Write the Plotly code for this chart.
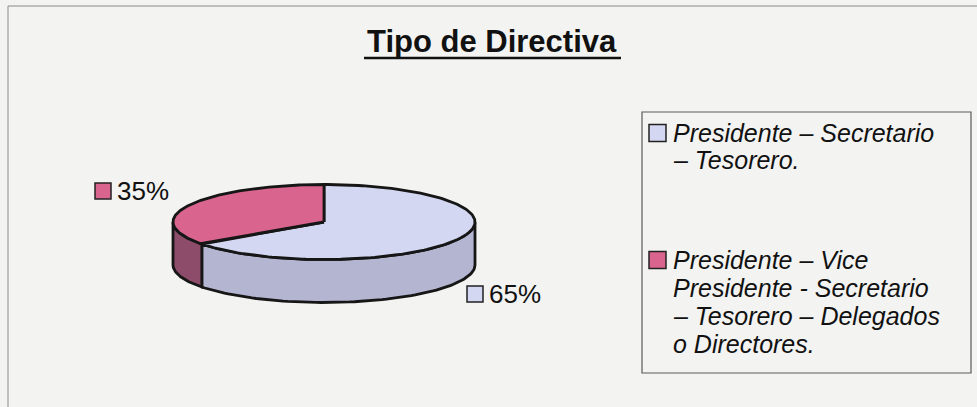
import numpy as np
import plotly.graph_objects as go

# ---- data ----
title_text = "Tipo de Directiva"
categories = [
    "Presidente – Secretario<br>– Tesorero.",
    "Presidente – Vice<br>Presidente - Secretario<br>– Tesorero – Delegados<br>o Directores.",
]
values = [65, 35]
pct_labels = ["65%", "35%"]
top_colors = ["#d3d7f1", "#d9648d"]
side_colors = ["#b4b5d1", "#8d4c69"]

# ---- layout geometry (pixel space) ----
W, H = 977, 407
CX, CY, RX, RY, DEPTH = 324, 222, 151, 37.5, 43
FONT = "Liberation Sans, Arial, sans-serif"
OUTLINE = "#161616"


def ell(t_deg, dy=0.0):
    t = np.radians(t_deg)
    return CX + RX * np.cos(t), CY - RY * np.sin(t) + dy


total = float(sum(values))
slices = []
start = 90.0
for v in values:
    span = 360.0 * v / total
    slices.append((start - span, start))
    start -= span

fig = go.Figure()

# side walls (front half only)
for i, (a0, a1) in enumerate(slices):
    for k in range(-2, 3):
        lo, hi = max(a0, -180 + 360 * k), min(a1, 360 * k)
        if hi > lo:
            ts = np.linspace(lo, hi, 80)
            xt, yt = ell(ts)
            xb, yb = ell(ts[::-1], DEPTH)
            xs = np.concatenate([xt, xb, xt[:1]])
            ys = np.concatenate([yt, yb, yt[:1]])
            fig.add_trace(go.Scatter(x=xs, y=ys, mode="lines", fill="toself",
                                     fillcolor=side_colors[i],
                                     line=dict(color=OUTLINE, width=2.8),
                                     hoverinfo="skip", showlegend=False))

# top faces
for i, (a0, a1) in enumerate(slices):
    ts = np.linspace(a1, a0, 160)
    xa, ya = ell(ts)
    xs = np.concatenate([[CX], xa, [CX]])
    ys = np.concatenate([[CY], ya, [CY]])
    fig.add_trace(go.Scatter(x=xs, y=ys, mode="lines", fill="toself",
                             fillcolor=top_colors[i],
                             line=dict(color=OUTLINE, width=2.8),
                             hoverinfo="skip", showlegend=False,
                             name=categories[i].replace("<br>", " ")))

shapes = []
annotations = []

# frame (top & left edges of the scanned chart area)
shapes.append(dict(type="line", xref="x", yref="y", x0=8, x1=W, y0=6, y1=6,
                   line=dict(color="#8a8a8a", width=1)))
shapes.append(dict(type="line", xref="x", yref="y", x0=8, x1=8, y0=6, y1=H,
                   line=dict(color="#8a8a8a", width=1)))

# title
annotations.append(dict(x=492, y=41, xref="x", yref="y", text="<b>" + title_text + "</b>",
                        showarrow=False, xanchor="center", yanchor="middle",
                        font=dict(family=FONT, size=31, color="#111")))
shapes.append(dict(type="line", xref="x", yref="y", x0=364, x1=621, y0=58, y1=58,
                   line=dict(color="#111", width=2.5)))

# percentage labels (key square + text)
label_pos = [(467, 294), (95, 191)]  # left edge of key square, vertical centre
for i, (lx, ly) in enumerate(label_pos):
    shapes.append(dict(type="rect", xref="x", yref="y", x0=lx, x1=lx + 16,
                       y0=ly - 8, y1=ly + 8, fillcolor=top_colors[i],
                       line=dict(color="#222", width=1.5)))
    annotations.append(dict(x=lx + 20, y=ly, xref="x", yref="y", text=pct_labels[i],
                            showarrow=False, xanchor="left", yanchor="middle",
                            font=dict(family=FONT, size=26, color="#111")))

# legend box
shapes.append(dict(type="rect", xref="x", yref="y", x0=642, x1=971, y0=112, y1=373,
                   line=dict(color="#5a5a5a", width=1.2), fillcolor="rgba(0,0,0,0)"))
item_first_line = [133, 260]
line_step = [27, 28]
for i, cat in enumerate(categories):
    y0 = item_first_line[i]
    shapes.append(dict(type="rect", xref="x", yref="y", x0=649, x1=666,
                       y0=y0 - 8.5, y1=y0 + 8.5, fillcolor=top_colors[i],
                       line=dict(color="#222", width=1.5)))
    for j, ln in enumerate(cat.split("<br>")):
        annotations.append(dict(x=671, y=y0 + j * line_step[i], xref="x", yref="y",
                                text="<i>" + ln + "</i>", showarrow=False,
                                xanchor="left", yanchor="middle",
                                font=dict(family=FONT, size=25, color="#111")))

fig.update_layout(
    width=W, height=H,
    margin=dict(l=0, r=0, t=0, b=0),
    paper_bgcolor="#f3f3f1", plot_bgcolor="#f3f3f1",
    xaxis=dict(range=[0, W], visible=False, fixedrange=True),
    yaxis=dict(range=[H, 0], visible=False, fixedrange=True),
    shapes=shapes, annotations=annotations,
    showlegend=False,
)

fig.write_html("out.html", config={"displayModeBar": False},
               post_script="document.body.style.margin='0';document.body.style.overflow='hidden';")
